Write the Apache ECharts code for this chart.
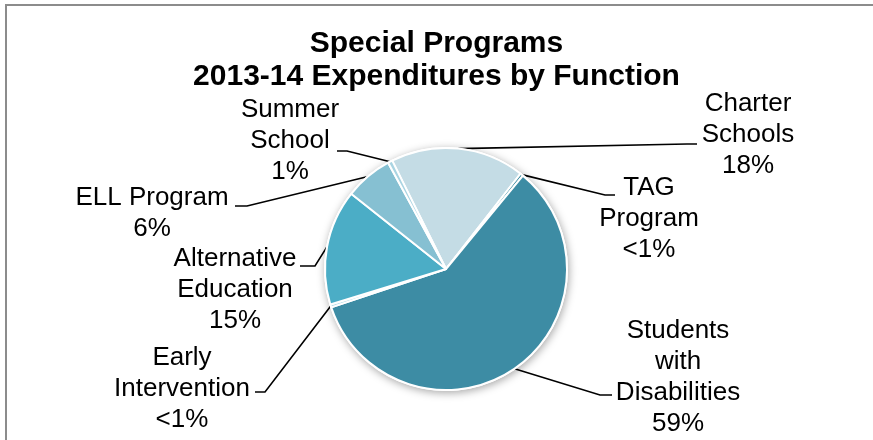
<!DOCTYPE html>
<html>
<head>
<meta charset="utf-8">
<script src="https://cdn.jsdelivr.net/npm/echarts@6/dist/echarts.min.js"></script>
<style>
  html, body { margin: 0; padding: 0; background: #ffffff; }
  #chart { width: 873px; height: 440px; }
</style>
</head>
<body>
<div id="chart"></div>
<script>
// Spending categories, clockwise from the Charter Schools slice
const categories = [
  'Charter\nSchools',
  'TAG\nProgram',
  'Students\nwith\nDisabilities',
  'Early\nIntervention',
  'Alternative\nEducation',
  'ELL Program',
  'Summer\nSchool'
];
// Share of spending (percent)
const shares = [17.9, 0.4, 58.9, 0.4, 15.4, 6.4, 0.6];

// Slice colours
const colors = ['#c4dce5', '#31859c', '#3d8ca4', '#b7dde8', '#4badc6', '#86c0d2', '#a9d4e2'];

// Label block centres and leader elbow / end points
const labelPos = [
  [748, 135], [649, 219], [678, 377], [182, 389], [235, 290], [152, 213], [290, 141]
];
const leaderPts = [
  [[687, 144], [697, 144]],
  [[605, 195], [615, 195]],
  [[600, 395], [612, 395]],
  [[265, 392], [255, 392]],
  [[315, 266], [300, 266]],
  [[247, 206], [235, 206]],
  [[347, 151], [337, 151]]
];

const CENTER = [446, 269];
const RADIUS = 121;
const FONT = '"Liberation Sans", Arial, sans-serif';

function pctText(v) {
  return v < 0.5 ? '<1%' : Math.round(v) + '%';
}

const chart = echarts.init(document.getElementById('chart'), null, { renderer: 'canvas' });

chart.setOption({
  backgroundColor: '#ffffff',
  animation: false,
  title: {
    text: 'Special Programs\n2013-14 Expenditures by Function',
    left: 'center',
    top: 27,
    padding: 0,
    textStyle: {
      fontFamily: FONT,
      fontSize: 30,
      fontWeight: 'bold',
      color: '#000000',
      lineHeight: 33
    }
  },
  graphic: [{
    type: 'rect',
    silent: true,
    shape: { x: 6, y: 5, width: 1000, height: 600 },
    style: { fill: 'none', stroke: '#8c8c8c', lineWidth: 2 }
  }],
  series: [
    {
      // soft shadow behind the pie
      type: 'pie',
      silent: true,
      center: CENTER,
      radius: RADIUS + 1,
      label: { show: false },
      labelLine: { show: false },
      itemStyle: {
        color: '#ffffff',
        shadowBlur: 8,
        shadowColor: 'rgba(0,0,0,0.35)',
        shadowOffsetX: 1,
        shadowOffsetY: 2
      },
      data: [1]
    },
    {
      type: 'pie',
      center: CENTER,
      radius: RADIUS,
      startAngle: 116.4,
      clockwise: true,
      avoidLabelOverlap: false,
      minAngle: 0,
      itemStyle: {
        borderColor: '#ffffff',
        borderWidth: 2
      },
      label: {
        show: true,
        position: 'outside',
        fontFamily: FONT,
        fontSize: 26,
        lineHeight: 31,
        color: '#000000',
        formatter: function (p) {
          return p.name + '\n' + pctText(p.value);
        }
      },
      labelLine: {
        show: true,
        length: 10,
        length2: 10,
        lineStyle: { color: '#000000', width: 1.6 }
      },
      labelLayout: function (params) {
        const i = params.dataIndex;
        const start = params.labelLinePoints ? params.labelLinePoints[0] : null;
        const out = {
          x: labelPos[i][0],
          y: labelPos[i][1],
          align: 'center',
          verticalAlign: 'middle',
          hideOverlap: false,
          moveOverlap: null
        };
        if (start) {
          out.labelLinePoints = [start, leaderPts[i][0], leaderPts[i][1]];
        }
        return out;
      },
      data: categories.map(function (name, i) {
        return { name: name, value: shares[i], itemStyle: { color: colors[i] } };
      })
    }
  ]
});
</script>
</body>
</html>
